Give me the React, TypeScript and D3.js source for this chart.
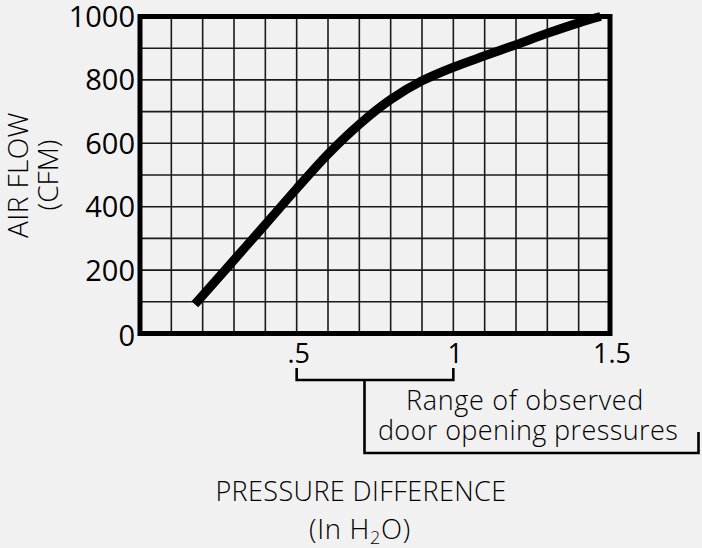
import React from "react";
import * as d3 from "d3";

const pressure = [0.175, 0.2, 0.3, 0.4, 0.5, 0.6, 0.7, 0.8, 0.9, 1.0, 1.1, 1.2, 1.3, 1.4, 1.47];
const airflow = [92, 120, 232, 344, 457, 566, 660, 738, 797, 840, 876, 911, 947, 980, 1000];
const yTicks = [0, 200, 400, 600, 800, 1000];
const xTicks = [0.5, 1, 1.5];
const xTickLabels = [".5", "1", "1.5"];
const rangeLow = 0.5;
const rangeHigh = 1.0;

const W = 702;
const H = 548;
const M = { left: 140, right: 92, top: 16.5, bottom: 215 };

export default function App() {
  const x = d3.scaleLinear().domain([0, 1.5]).range([M.left, W - M.right]);
  const y = d3.scaleLinear().domain([0, 1000]).range([H - M.bottom + 0.5, M.top]);
  const xGrid = d3.range(1, 15).map((i) => i / 10);
  const yGrid = d3.range(1, 10).map((i) => i * 100);
  const line = d3
    .line<number>()
    .x((_, i) => x(pressure[i]))
    .y((d) => y(d))
    .curve(d3.curveCatmullRom.alpha(0.5));
  const path = line(airflow) || "";
  const font = "'Open Sans', sans-serif";
  const bx0 = x(rangeLow);
  const bx1 = x(rangeHigh);
  const bmid = 364.5;
  return (
    <svg
      width={W}
      height={H}
      style={{ position: "absolute", left: 0, top: 0, background: "#f1f1f1" }}
    >
      <rect x={0} y={0} width={W} height={H} fill="#f1f1f1" />
      {xGrid.map((v) => (
        <line key={"gx" + v} x1={x(v)} x2={x(v)} y1={y(1000)} y2={y(0)} stroke="#1a1a1a" strokeWidth={1.6} />
      ))}
      {yGrid.map((v) => (
        <line key={"gy" + v} x1={x(0)} x2={x(1.5)} y1={y(v)} y2={y(v)} stroke="#1a1a1a" strokeWidth={1.6} />
      ))}
      <rect
        x={x(0)}
        y={y(1000)}
        width={x(1.5) - x(0)}
        height={y(0) - y(1000)}
        fill="none"
        stroke="#000"
        strokeWidth={5}
      />
      <path d={path} fill="none" stroke="#000" strokeWidth={9} strokeLinecap="butt" strokeLinejoin="round" />
      {yTicks.map((v) => (
        <text
          key={"yt" + v}
          x={135}
          y={y(v)}
          dy={v === 0 ? "0.42em" : "0.36em"}
          textAnchor="end"
          fontFamily={font}
          fontSize={29}
          fill="#000"
        >
          {v}
        </text>
      ))}
      {xTicks.map((v, i) => (
        <text
          key={"xt" + v}
          x={x(v) + 2}
          y={363}
          textAnchor="middle"
          fontFamily={font}
          fontSize={27}
          fill="#000"
        >
          {xTickLabels[i]}
        </text>
      ))}
      <path
        d={`M${bx0},368 V380 H${bx1} V368 M${bmid},380 V453 H698.5 V432`}
        fill="none"
        stroke="#000"
        strokeWidth={2.6}
      />
      <text x={525} y={410} textAnchor="middle" fontFamily={font} fontWeight={300} fontSize={27} letterSpacing={0.7} fill="#000">
        Range of observed
      </text>
      <text x={528} y={440} textAnchor="middle" fontFamily={font} fontWeight={300} fontSize={27} letterSpacing={0.4} fill="#000">
        door opening pressures
      </text>
      <text x={361} y={501} textAnchor="middle" fontFamily={font} fontWeight={300} fontSize={27} letterSpacing={0.4} fill="#000">
        PRESSURE DIFFERENCE
      </text>
      <text x={360} y={539} textAnchor="middle" fontFamily={font} fontWeight={300} fontSize={27.5} letterSpacing={0.7} fill="#000">
        (In H<tspan fontSize={18} dy={5}>2</tspan>
        <tspan dy={-5}>O)</tspan>
      </text>
      <text
        transform="translate(28,175) rotate(-90)"
        textAnchor="middle"
        fontFamily={font}
        fontWeight={300}
        fontSize={28}
        letterSpacing={0.4}
        fill="#000"
      >
        AIR FLOW
      </text>
      <text
        transform="translate(58,175) rotate(-90)"
        textAnchor="middle"
        fontFamily={font}
        fontWeight={300}
        fontSize={28}
        fill="#000"
      >
        (CFM)
      </text>
    </svg>
  );
}
